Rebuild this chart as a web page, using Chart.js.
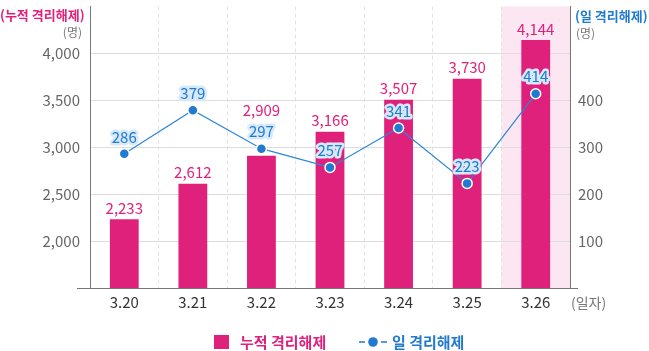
<!DOCTYPE html>
<html>
<head>
<meta charset="utf-8">
<script src="https://cdn.jsdelivr.net/npm/chart.js@4/dist/chart.umd.min.js"></script>
<style>
  body { margin: 0; background: #fff; }
  #wrap { width: 649px; height: 351px; }
</style>
</head>
<body>
<div id="wrap"><canvas id="chart" width="649" height="351"></canvas></div>
<script>
const dates = ["3.20", "3.21", "3.22", "3.23", "3.24", "3.25", "3.26"];
const cumulative = [2233, 2612, 2909, 3166, 3507, 3730, 4144];
const daily = [286, 379, 297, 257, 341, 223, 414];
const leftTicks = [2000, 2500, 3000, 3500, 4000];
const rightTicks = [100, 200, 300, 400];
const highlightIndex = 6;

const PINK = "#e0217b";
const BLUE = "#1f7ad0";
const FONT = "'Noto Sans CJK KR', 'Noto Sans', sans-serif";

Chart.defaults.font.family = FONT;

function fmt(v) {
  return v.toLocaleString("en-US");
}

function fixWidth(w) {
  return (scale) => {
    scale.width = w;
    scale.paddingTop = 0;
    scale.paddingBottom = 0;
  };
}

const decorPlugin = {
  id: "decor",
  beforeDraw(chart) {
    const { ctx, chartArea, scales } = chart;
    const x = scales.x;
    const half = (x.getPixelForValue(1) - x.getPixelForValue(0)) / 2;
    const cx = x.getPixelForValue(highlightIndex);
    ctx.save();
    ctx.fillStyle = "#fce6f1";
    ctx.fillRect(cx - half, chartArea.top, half * 2, chartArea.bottom - chartArea.top);
    ctx.restore();
  },
  afterDatasetsDraw(chart) {
    const ctx = chart.ctx;
    const bars = chart.getDatasetMeta(0).data;
    const points = chart.getDatasetMeta(1).data;
    ctx.save();
    ctx.textAlign = "center";
    ctx.textBaseline = "middle";
    ctx.font = "15px " + FONT;

    // bar values, pushed above the line label when they would collide
    ctx.fillStyle = PINK;
    bars.forEach((el, i) => {
      let y = el.y - 11;
      const lineY = points[i].y - 17;
      if (Math.abs(y - lineY) < 18) y = lineY - 21;
      ctx.fillText(fmt(cumulative[i]), el.x, y);
    });

    // line values with halo
    ctx.lineJoin = "round";
    points.forEach((el, i) => {
      const t = String(daily[i]);
      ctx.strokeStyle = "#d6e9fb";
      ctx.lineWidth = 5;
      ctx.strokeText(t, el.x, el.y - 17);
      ctx.fillStyle = BLUE;
      ctx.fillText(t, el.x, el.y - 17);
    });
    ctx.restore();
  },
  afterDraw(chart) {
    const { ctx, chartArea } = chart;
    ctx.save();

    // bottom axis line sticking out past both y axes
    ctx.strokeStyle = "#777";
    ctx.lineWidth = 1;
    ctx.beginPath();
    ctx.moveTo(chartArea.left - 13, chartArea.bottom + 0.5);
    ctx.lineTo(chartArea.right + 8, chartArea.bottom + 0.5);
    ctx.stroke();

    // axis titles
    ctx.textBaseline = "middle";
    ctx.font = "bold 13px " + FONT;
    ctx.textAlign = "left";
    ctx.fillStyle = PINK;
    ctx.fillText("(누적 격리해제)", 0, 15);
    ctx.fillStyle = BLUE;
    ctx.fillText("(일 격리해제)", 575, 16);

    ctx.font = "12px " + FONT;
    ctx.fillStyle = "#777";
    ctx.textAlign = "right";
    ctx.fillText("(명)", 82, 32);
    ctx.textAlign = "left";
    ctx.fillText("(명)", 576, 33);

    ctx.font = "14px " + FONT;
    ctx.fillText("(일자)", 571, 303);

    // legend
    ctx.fillStyle = PINK;
    ctx.fillRect(214, 335, 15, 14);
    ctx.font = "bold 15px " + FONT;
    ctx.fillText("누적 격리해제", 240, 342);

    ctx.strokeStyle = BLUE;
    ctx.lineWidth = 1.5;
    ctx.beginPath();
    ctx.moveTo(359, 342);
    ctx.lineTo(365, 342);
    ctx.moveTo(381, 342);
    ctx.lineTo(387, 342);
    ctx.stroke();
    ctx.fillStyle = BLUE;
    ctx.beginPath();
    ctx.arc(373, 342, 4.8, 0, Math.PI * 2);
    ctx.fill();
    ctx.fillText("일 격리해제", 392, 342);

    ctx.restore();
  }
};

new Chart(document.getElementById("chart"), {
  type: "bar",
  data: {
    labels: dates,
    datasets: [
      {
        type: "bar",
        label: "누적 격리해제",
        data: cumulative,
        yAxisID: "y",
        backgroundColor: PINK,
        barPercentage: 0.42,
        categoryPercentage: 1,
        order: 1
      },
      {
        type: "line",
        label: "일 격리해제",
        data: daily,
        yAxisID: "y1",
        borderColor: "#2b86d6",
        borderWidth: 1.2,
        pointRadius: 5,
        pointBackgroundColor: BLUE,
        pointBorderColor: "#fff",
        pointBorderWidth: 1.5,
        tension: 0,
        order: 0
      }
    ]
  },
  options: {
    responsive: false,
    animation: false,
    layout: { padding: 0 },
    plugins: {
      legend: { display: false },
      tooltip: { enabled: false }
    },
    scales: {
      x: {
        offset: true,
        grid: { color: "#e3e3e3", drawTicks: false, offset: true },
        border: { display: true, color: "#777", dash: [4, 3] },
        ticks: { color: "#333", font: { size: 15 }, padding: 5 },
        afterFit(scale) {
          scale.height = 63;
          scale.paddingLeft = 0;
          scale.paddingRight = 0;
        }
      },
      y: {
        position: "left",
        min: 1500,
        max: 4500,
        grid: { color: "#dddddd", drawTicks: false },
        border: { color: "#777" },
        ticks: {
          color: "#666",
          font: { size: 15 },
          padding: 10,
          callback: (v) => fmt(v)
        },
        afterBuildTicks(scale) {
          scale.ticks = leftTicks.map((v) => ({ value: v }));
        },
        afterFit: fixWidth(90)
      },
      y1: {
        position: "right",
        min: 0,
        max: 600,
        grid: { drawOnChartArea: false, drawTicks: false },
        border: { color: "#777" },
        ticks: {
          color: "#666",
          font: { size: 15 },
          padding: 8
        },
        afterBuildTicks(scale) {
          scale.ticks = rightTicks.map((v) => ({ value: v }));
        },
        afterFit: fixWidth(79)
      }
    }
  },
  plugins: [decorPlugin]
});
</script>
</body>
</html>
